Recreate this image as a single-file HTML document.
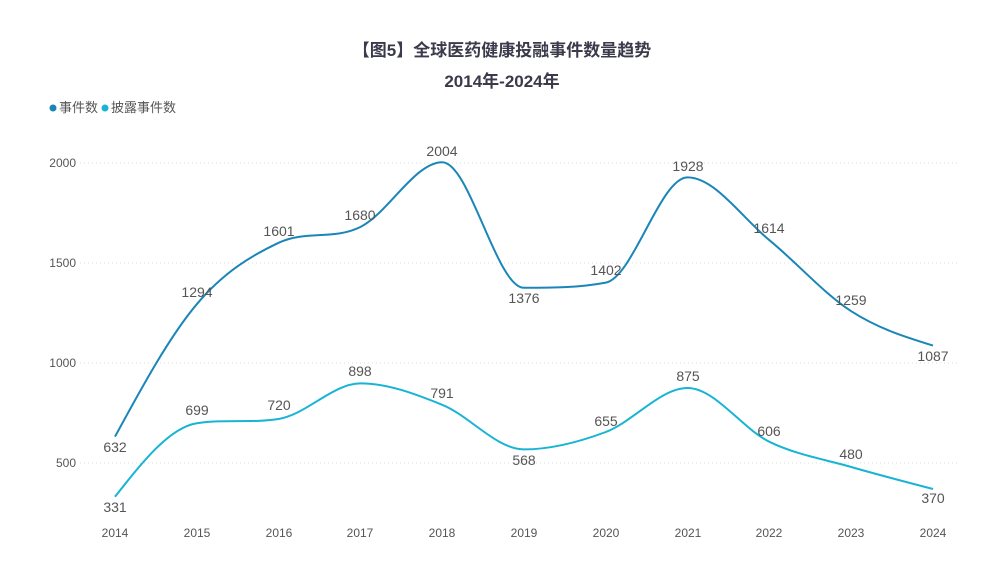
<!DOCTYPE html>
<html><head><meta charset="utf-8"><style>
body{margin:0;background:#fff;}
svg text{font-family:"Liberation Sans","Noto Sans CJK SC",sans-serif;}
</style></head><body>
<svg id="c" width="1004" height="573" xmlns="http://www.w3.org/2000/svg">
<text x="502" y="56" text-anchor="middle" font-size="17" font-weight="bold" fill="#3a3a4a">【图5】全球医药健康投融事件数量趋势</text>
<text x="502" y="87" text-anchor="middle" font-size="17" font-weight="bold" fill="#3a3a4a">2014年-2024年</text>
<circle cx="53" cy="108" r="3.5" fill="#1a86b8"/><text x="59" y="112" font-size="13" fill="#555">事件数</text>
<circle cx="105" cy="108" r="3.5" fill="#18b4d4"/><text x="111" y="112" font-size="13" fill="#555">披露事件数</text>
<g stroke="#ddd" stroke-dasharray="1,3" stroke-width="1">
<line x1="80" y1="163" x2="960" y2="163"/><line x1="80" y1="263" x2="960" y2="263"/><line x1="80" y1="363" x2="960" y2="363"/><line x1="80" y1="463" x2="960" y2="463"/>
</g>
<g font-size="12" fill="#555" text-anchor="end">
<text x="76" y="167">2000</text><text x="76" y="267">1500</text><text x="76" y="367">1000</text><text x="76" y="467">500</text>
</g>
<g font-size="12" fill="#555" text-anchor="middle">
<text x="115" y="537">2014</text><text x="197" y="537">2015</text><text x="279" y="537">2016</text><text x="360" y="537">2017</text><text x="442" y="537">2018</text><text x="524" y="537">2019</text><text x="606" y="537">2020</text><text x="688" y="537">2021</text><text x="769" y="537">2022</text><text x="851" y="537">2023</text><text x="933" y="537">2024</text>
</g>
<path id="p1" fill="none" stroke="#1a86b8" stroke-width="2"/>
<path id="p2" fill="none" stroke="#18b4d4" stroke-width="2"/>
<g font-size="14" fill="#555" text-anchor="middle">
<text x="115" y="452">632</text><text x="197" y="297">1294</text><text x="279" y="236">1601</text><text x="360" y="220">1680</text><text x="442" y="156">2004</text><text x="524" y="303">1376</text><text x="606" y="275">1402</text><text x="688" y="171">1928</text><text x="769" y="233">1614</text><text x="851" y="305">1259</text><text x="933" y="361">1087</text>
<text x="115" y="512">331</text><text x="197" y="415">699</text><text x="279" y="410">720</text><text x="360" y="376">898</text><text x="442" y="398">791</text><text x="524" y="465">568</text><text x="606" y="426">655</text><text x="688" y="381">875</text><text x="769" y="436">606</text><text x="851" y="459">480</text><text x="933" y="503">370</text>
</g>
</svg>
<script>
function path(v){var n=v.length,h=81.8,x=[],y=[];
for(var i=0;i<n;i++){x.push(115+i*h);y.push(563-0.2*v[i]);}
var s=[],m=[];for(i=0;i<n-1;i++)s.push((y[i+1]-y[i])/h);
for(i=0;i<n;i++){if(i==0)m.push(s[0]);else if(i==n-1)m.push(s[n-2]);
else{var a=s[i-1],b=s[i];if(a*b<=0)m.push(0);else{var t=(a+b)/2;var mx=3*Math.min(Math.abs(a),Math.abs(b));m.push(Math.sign(t)*Math.min(Math.abs(t),mx));}}}
m[0]=(3*s[0]-m[1])/2;m[n-1]=(3*s[n-2]-m[n-2])/2;
var d="M"+x[0]+","+y[0];
for(i=0;i<n-1;i++){var dx=h/3;d+=" C"+(x[i]+dx)+","+(y[i]+m[i]*dx)+" "+(x[i+1]-dx)+","+(y[i+1]-m[i+1]*dx)+" "+x[i+1]+","+y[i+1];}
return d;}
document.getElementById("p1").setAttribute("d",path([632,1294,1601,1680,2004,1376,1402,1928,1614,1259,1087]));
document.getElementById("p2").setAttribute("d",path([331,699,720,898,791,568,655,875,606,480,370]));
</script>
</body></html>
